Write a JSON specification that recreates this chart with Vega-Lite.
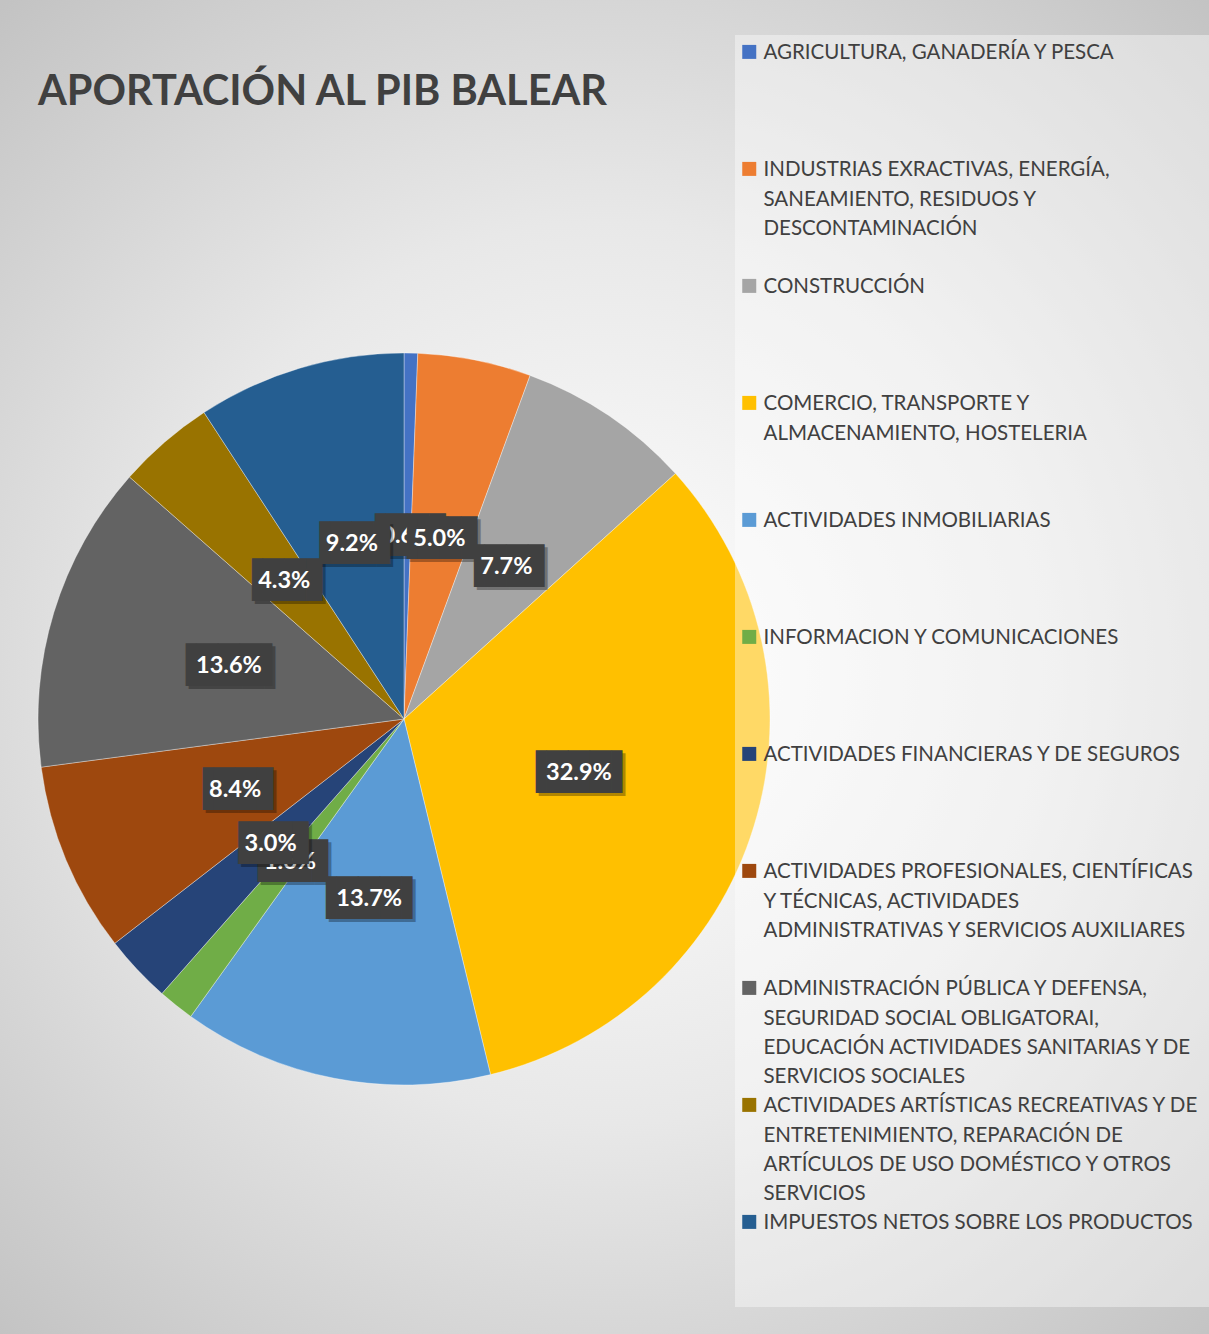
{
  "$schema": "https://vega.github.io/schema/vega-lite/v6.json",
  "width": 1610,
  "height": 1610,
  "autosize": {"type": "none"},
  "padding": {"left": -401, "top": -86, "right": 0, "bottom": -190},
  "background": "#ffffff",
  "title": {
    "text": "APORTACIÓN AL PIB BALEAR",
    "anchor": "start",
    "frame": "group",
    "orient": "top",
    "offset": 0,
    "dx": 439,
    "dy": 232,
    "baseline": "alphabetic",
    "font": "Lato",
    "fontSize": 41.5,
    "fontWeight": "bold",
    "color": "#404040"
  },
  "data": {
    "values": [
      {"orden": 1, "sector": "AGRICULTURA, GANADERÍA Y PESCA", "valor": 0.006},
      {"orden": 2, "sector": "INDUSTRIAS EXRACTIVAS, ENERGÍA, SANEAMIENTO, RESIDUOS Y DESCONTAMINACIÓN", "valor": 0.050},
      {"orden": 3, "sector": "CONSTRUCCIÓN", "valor": 0.077},
      {"orden": 4, "sector": "COMERCIO, TRANSPORTE Y ALMACENAMIENTO, HOSTELERIA", "valor": 0.329},
      {"orden": 5, "sector": "ACTIVIDADES INMOBILIARIAS", "valor": 0.137},
      {"orden": 6, "sector": "INFORMACION Y COMUNICACIONES", "valor": 0.016},
      {"orden": 7, "sector": "ACTIVIDADES FINANCIERAS Y DE SEGUROS", "valor": 0.030},
      {"orden": 8, "sector": "ACTIVIDADES PROFESIONALES, CIENTÍFICAS Y TÉCNICAS, ACTIVIDADES ADMINISTRATIVAS Y SERVICIOS AUXILIARES", "valor": 0.084},
      {"orden": 9, "sector": "ADMINISTRACIÓN PÚBLICA Y DEFENSA, SEGURIDAD SOCIAL OBLIGATORAI, EDUCACIÓN ACTIVIDADES SANITARIAS Y DE SERVICIOS SOCIALES", "valor": 0.136},
      {"orden": 10, "sector": "ACTIVIDADES ARTÍSTICAS RECREATIVAS Y DE ENTRETENIMIENTO, REPARACIÓN DE ARTÍCULOS DE USO DOMÉSTICO Y OTROS SERVICIOS", "valor": 0.043},
      {"orden": 11, "sector": "IMPUESTOS NETOS SOBRE LOS PRODUCTOS", "valor": 0.092}
    ]
  },
  "layer": [
    {
      "data": {"values": [{}]},
      "mark": {
        "type": "rect",
        "fill": {
          "gradient": "radial",
          "x1": 0.627, "y1": 0.471, "r1": 0,
          "x2": 0.627, "y2": 0.471, "r2": 0.56,
          "stops": [
            {"offset": 0, "color": "#ffffff"},
            {"offset": 0.5, "color": "#e8e8e8"},
            {"offset": 1, "color": "#c3c3c3"}
          ]
        }
      }
    },
    {
      "encoding": {
        "theta": {"field": "valor", "type": "quantitative", "stack": true},
        "order": {"field": "orden", "type": "quantitative"},
        "detail": {"field": "sector", "type": "nominal"}
      },
      "layer": [
        {
          "mark": {"type": "arc", "radius": 366, "stroke": "#ffffff", "strokeWidth": 0.6, "strokeOpacity": 0.6},
          "encoding": {
            "color": {
              "field": "sector",
              "type": "nominal",
              "scale": {
                "domain": [
                  "AGRICULTURA, GANADERÍA Y PESCA",
                  "INDUSTRIAS EXRACTIVAS, ENERGÍA, SANEAMIENTO, RESIDUOS Y DESCONTAMINACIÓN",
                  "CONSTRUCCIÓN",
                  "COMERCIO, TRANSPORTE Y ALMACENAMIENTO, HOSTELERIA",
                  "ACTIVIDADES INMOBILIARIAS",
                  "INFORMACION Y COMUNICACIONES",
                  "ACTIVIDADES FINANCIERAS Y DE SEGUROS",
                  "ACTIVIDADES PROFESIONALES, CIENTÍFICAS Y TÉCNICAS, ACTIVIDADES ADMINISTRATIVAS Y SERVICIOS AUXILIARES",
                  "ADMINISTRACIÓN PÚBLICA Y DEFENSA, SEGURIDAD SOCIAL OBLIGATORAI, EDUCACIÓN ACTIVIDADES SANITARIAS Y DE SERVICIOS SOCIALES",
                  "ACTIVIDADES ARTÍSTICAS RECREATIVAS Y DE ENTRETENIMIENTO, REPARACIÓN DE ARTÍCULOS DE USO DOMÉSTICO Y OTROS SERVICIOS",
                  "IMPUESTOS NETOS SOBRE LOS PRODUCTOS"
                ],
                "range": ["#4472C4", "#ED7D31", "#A5A5A5", "#FFC000", "#5B9BD5", "#70AD47", "#264478", "#9E480E", "#636363", "#997300", "#255E91"]
              },
              "legend": {
                "title": null,
                "orient": "none",
                "direction": "vertical",
                "legendX": 1136,
                "legendY": 121,
                "padding": 14,
                "fillColor": "rgba(255,255,255,0.4)",
                "strokeColor": null,
                "gridAlign": "all",
                "rowPadding": 8,
                "symbolType": "M-1,-2.05H1V-0.05H-1Z",
                "symbolSize": 196,
                "symbolStrokeWidth": 0,
                "symbolOffset": -10,
                "labelOffset": 4,
                "labelFont": "Lato",
                "labelFontSize": 20.5,
                "labelColor": "#404040",
                "labelBaseline": "alphabetic",
                "labelLimit": 1000,
                "labelExpr": "datum.label == 'INDUSTRIAS EXRACTIVAS, ENERGÍA, SANEAMIENTO, RESIDUOS Y DESCONTAMINACIÓN' ? ['INDUSTRIAS EXRACTIVAS, ENERGÍA,', 'SANEAMIENTO, RESIDUOS Y', 'DESCONTAMINACIÓN', ''] : datum.label == 'COMERCIO, TRANSPORTE Y ALMACENAMIENTO, HOSTELERIA' ? ['COMERCIO, TRANSPORTE Y', 'ALMACENAMIENTO, HOSTELERIA', '', ''] : datum.label == 'ACTIVIDADES PROFESIONALES, CIENTÍFICAS Y TÉCNICAS, ACTIVIDADES ADMINISTRATIVAS Y SERVICIOS AUXILIARES' ? ['ACTIVIDADES PROFESIONALES, CIENTÍFICAS', 'Y TÉCNICAS, ACTIVIDADES', 'ADMINISTRATIVAS Y SERVICIOS AUXILIARES', ''] : datum.label == 'ADMINISTRACIÓN PÚBLICA Y DEFENSA, SEGURIDAD SOCIAL OBLIGATORAI, EDUCACIÓN ACTIVIDADES SANITARIAS Y DE SERVICIOS SOCIALES' ? ['ADMINISTRACIÓN PÚBLICA Y DEFENSA,', 'SEGURIDAD SOCIAL OBLIGATORAI,', 'EDUCACIÓN ACTIVIDADES SANITARIAS Y DE', 'SERVICIOS SOCIALES'] : datum.label == 'ACTIVIDADES ARTÍSTICAS RECREATIVAS Y DE ENTRETENIMIENTO, REPARACIÓN DE ARTÍCULOS DE USO DOMÉSTICO Y OTROS SERVICIOS' ? ['ACTIVIDADES ARTÍSTICAS RECREATIVAS Y DE', 'ENTRETENIMIENTO, REPARACIÓN DE', 'ARTÍCULOS DE USO DOMÉSTICO Y OTROS', 'SERVICIOS'] : datum.label == 'IMPUESTOS NETOS SOBRE LOS PRODUCTOS' ? [datum.label, '', ''] : [datum.label, '', '', '']"
              }
            }
          }
        },
        {
          "mark": {"type": "text", "radius": 183, "font": "DejaVu Sans Mono", "fontSize": 36, "align": "center", "baseline": "middle", "dx": 3, "dy": 3, "color": "#000000"},
          "encoding": {
            "text": {"condition": {"test": "datum.valor >= 0.1", "value": "▐███▌"}, "value": "▐██▊"},
            "opacity": {"condition": {"test": "datum.orden == 2 || datum.orden == 3 || datum.orden == 7 || datum.orden == 11", "value": 0}, "value": 0.3}
          }
        },
        {
          "mark": {"type": "text", "radius": 183, "font": "DejaVu Sans Mono", "fontSize": 36, "align": "center", "baseline": "middle", "color": "#404040"},
          "encoding": {
            "text": {"condition": {"test": "datum.valor >= 0.1", "value": "▐███▌"}, "value": "▐██▊"},
            "opacity": {"condition": {"test": "datum.orden == 2 || datum.orden == 3 || datum.orden == 7 || datum.orden == 11", "value": 0}, "value": 1}
          }
        },
        {
          "mark": {"type": "text", "radius": 183, "font": "Lato", "fontSize": 23.5, "fontWeight": "bold", "align": "center", "baseline": "middle", "color": "#ffffff"},
          "encoding": {
            "text": {"field": "valor", "type": "quantitative", "format": ".1%"},
            "opacity": {"condition": {"test": "datum.orden == 2 || datum.orden == 3 || datum.orden == 7 || datum.orden == 11", "value": 0}, "value": 1}
          }
        },
        {
          "mark": {"type": "text", "radius": 183, "font": "DejaVu Sans Mono", "fontSize": 36, "align": "center", "baseline": "middle", "dx": 3, "dy": 3, "color": "#000000"},
          "encoding": {
            "text": {"condition": {"test": "datum.valor >= 0.1", "value": "▐███▌"}, "value": "▐██▊"},
            "opacity": {"condition": {"test": "datum.orden == 2 || datum.orden == 3 || datum.orden == 7 || datum.orden == 11", "value": 0.3}, "value": 0}
          }
        },
        {
          "mark": {"type": "text", "radius": 183, "font": "DejaVu Sans Mono", "fontSize": 36, "align": "center", "baseline": "middle", "color": "#404040"},
          "encoding": {
            "text": {"condition": {"test": "datum.valor >= 0.1", "value": "▐███▌"}, "value": "▐██▊"},
            "opacity": {"condition": {"test": "datum.orden == 2 || datum.orden == 3 || datum.orden == 7 || datum.orden == 11", "value": 1}, "value": 0}
          }
        },
        {
          "mark": {"type": "text", "radius": 183, "font": "Lato", "fontSize": 23.5, "fontWeight": "bold", "align": "center", "baseline": "middle", "color": "#ffffff"},
          "encoding": {
            "text": {"field": "valor", "type": "quantitative", "format": ".1%"},
            "opacity": {"condition": {"test": "datum.orden == 2 || datum.orden == 3 || datum.orden == 7 || datum.orden == 11", "value": 1}, "value": 0}
          }
        }
      ]
    }
  ],
  "config": {
    "view": {"stroke": null},
    "style": {"guide-label": {"lineHeight": 29.3}}
  }
}
